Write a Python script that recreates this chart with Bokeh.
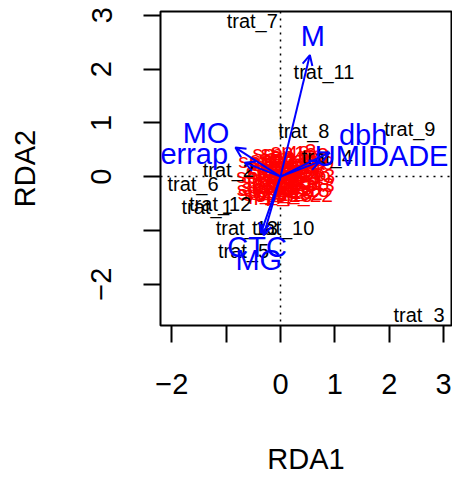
from bokeh.plotting import figure
from bokeh.models import Range1d, ColumnDataSource, Arrow, OpenHead, Span, FixedTicker
from bokeh.core.properties import value
from bokeh.embed import file_html
from bokeh.resources import INLINE

# ---- data ----
x_ticks = [-2, -1, 0, 1, 2, 3]
x_tick_labels = ["\u22122", "", "0", "1", "2", "3"]
y_ticks = [-2, -1, 0, 1, 2, 3]
y_tick_labels = ["\u22122", "", "0", "1", "2", "3"]

sp_names = ["sp_%d" % i for i in range(1, 49)]
sp_x = [0.05, -0.14, 0.24, 0.34, -0.22, 0.10, 0.42, -0.05, 0.15, -0.28,
        0.30, 0.02, 0.48, -0.16, 0.20, 0.08, -0.02, 0.38, 0.12, -0.25,
        0.27, 0.44, -0.08, 0.18, 0.00, 0.32, -0.20, 0.06, 0.46, 0.14,
        -0.11, 0.25, 0.36, -0.29, 0.09, 0.17, -0.04, 0.29, 0.40, 0.04,
        -0.18, 0.22, 0.47, -0.26, 0.12, 0.35, -0.10, 0.01]
sp_y = [0.44, 0.34, 0.48, 0.20, 0.10, 0.05, 0.12, -0.05, -0.17, -0.22,
        -0.10, 0.24, 0.02, -0.31, 0.32, -0.28, 0.15, -0.24, 0.10, 0.30,
        0.38, -0.33, 0.00, -0.05, -0.20, 0.05, -0.08, -0.33, 0.27, 0.18,
        0.12, -0.29, 0.41, 0.02, 0.08, -0.12, 0.28, 0.14, -0.02, -0.10,
        -0.18, 0.22, -0.15, -0.30, 0.36, 0.32, -0.25, 0.45]

site_names = ["trat_1", "trat_2", "trat_3", "trat_4", "trat_5", "trat_6", "trat_7",
              "trat_8", "trat_9", "trat_10", "trat_11", "trat_12", "trat_13"]
site_x = [-1.35, -0.96, 2.55, 0.86, -0.68, -1.61, -0.52, 0.43, 2.38, 0.05, 0.80, -1.11, -0.62]
site_y = [-0.56, 0.12, -2.57, 0.36, -1.39, -0.13, 2.89, 0.85, 0.88, -0.96, 1.95, -0.50, -0.96]

env_names = ["M", "MO", "serrap", "dbh", "UMIDADE", "CTC", "MG"]
env_x = [0.54, -0.83, -0.66, 0.90, 0.72, -0.31, -0.36]
env_y = [2.26, 0.54, 0.26, 0.45, 0.28, -1.09, -1.05]
env_lab_x = [0.595, -1.37, -1.72, 1.52, 1.86, -0.43, -0.40]
env_lab_y = [2.61, 0.82, 0.42, 0.77, 0.39, -1.30, -1.55]

FONT = "Liberation Sans"

p = figure(width=452, height=477, output_backend="svg", toolbar_location=None,
           x_range=Range1d(-2.208, 3.146), y_range=Range1d(-2.768, 3.07),
           min_border_left=160, min_border_right=1, min_border_top=11,
           min_border_bottom=149, x_axis_label="RDA1", y_axis_label="RDA2")

p.background_fill_color = "white"
p.border_fill_color = "white"
p.grid.visible = False
p.outline_line_color = "black"
p.outline_line_width = 2

for ax, ticks, labels in ((p.xaxis[0], x_ticks, x_tick_labels), (p.yaxis[0], y_ticks, y_tick_labels)):
    ax.ticker = FixedTicker(ticks=ticks)
    ax.major_label_overrides = {t: l for t, l in zip(ticks, labels)}
    ax.axis_line_color = None
    ax.major_tick_out = 17
    ax.major_tick_in = 0
    ax.major_tick_line_width = 2
    ax.major_tick_line_color = "black"
    ax.minor_tick_line_color = None
    ax.major_label_text_font = FONT
    ax.major_label_text_font_size = "29px"
    ax.major_label_text_color = "black"
    ax.axis_label_text_font = FONT
    ax.axis_label_text_font_size = "29px"
    ax.axis_label_text_font_style = "normal"
    ax.axis_label_text_color = "black"

p.xaxis.major_label_standoff = 31
p.xaxis.axis_label_standoff = 46
p.yaxis.major_label_orientation = "vertical"
p.yaxis.major_label_standoff = 32
p.yaxis.axis_label_standoff = 48

p.add_layout(Span(location=0, dimension="height", line_color="black",
                  line_dash="2 5", line_width=1.5, level="underlay"))
p.add_layout(Span(location=0, dimension="width", line_color="black",
                  line_dash="2 5", line_width=1.5, level="underlay"))

sp_src = ColumnDataSource(dict(x=sp_x, y=sp_y, t=sp_names))
p.text(x="x", y="y", text="t", source=sp_src, text_color="red",
       text_font=value(FONT), text_font_size=value("21px"),
       text_align="center", text_baseline="middle")

site_src = ColumnDataSource(dict(x=site_x, y=site_y, t=site_names))
p.text(x="x", y="y", text="t", source=site_src, text_color="black",
       text_font=value(FONT), text_font_size=value("20px"),
       text_align="center", text_baseline="middle")

env_src = ColumnDataSource(dict(x0=[0.0] * len(env_x), y0=[0.0] * len(env_y),
                                x1=env_x, y1=env_y))
p.add_layout(Arrow(end=OpenHead(size=10, line_color="blue", line_width=2),
                   x_start="x0", y_start="y0", x_end="x1", y_end="y1",
                   line_color="blue", line_width=2, source=env_src))

lab_src = ColumnDataSource(dict(x=env_lab_x, y=env_lab_y, t=env_names))
p.text(x="x", y="y", text="t", source=lab_src, text_color="blue",
       text_font=value(FONT), text_font_size=value("29px"),
       text_align="center", text_baseline="middle")

open("out.html", "w").write(file_html(p, INLINE))
